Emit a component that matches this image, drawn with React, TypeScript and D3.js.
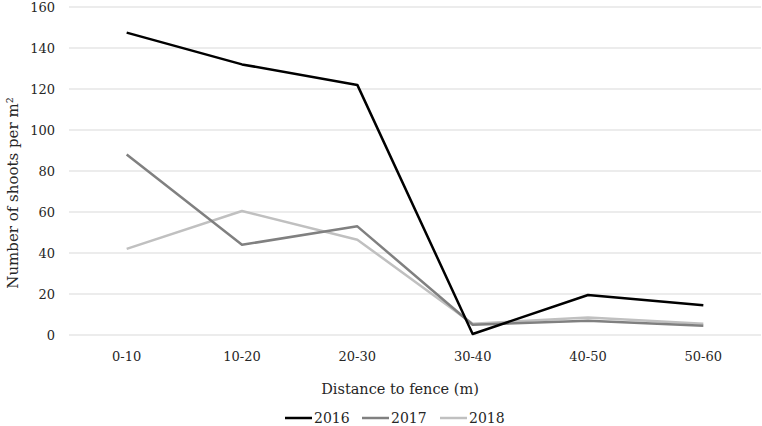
import { useEffect, useRef } from 'react'
import * as d3 from 'd3'

const categories = ['0-10', '10-20', '20-30', '30-40', '40-50', '50-60']
const years = ['2016', '2017', '2018']
const shoots2016 = [147.5, 132, 122, 0.5, 19.5, 14.5]
const shoots2017 = [88, 44, 53, 5, 7, 4.5]
const shoots2018 = [42, 60.5, 46.5, 5.5, 8.5, 5.5]
const yTicks = [0, 20, 40, 60, 80, 100, 120, 140, 160]

const colors = ['#000000', '#808080', '#c0c0c0']
const font = '"DejaVu Serif", serif'
const textColor = '#262626'

const App = () => {
  const svgRef = useRef<SVGSVGElement>(null)
  const W = 762
  const H = 426
  const margin = { top: 7, right: 1, bottom: 91, left: 69 }
  const width = W - margin.left - margin.right
  const height = H - margin.top - margin.bottom

  useEffect(() => {
    const svg = d3.select(svgRef.current)
    svg.selectAll('*').remove()

    const x = d3.scaleBand().domain(categories).range([0, width])
    const y = d3.scaleLinear().domain([0, 160]).range([height, 0])

    const g = svg.append('g').attr('transform', `translate(${margin.left},${margin.top})`)

    // gridlines
    yTicks.forEach(t => {
      g.append('line')
        .attr('x1', 0).attr('x2', width)
        .attr('y1', y(t)).attr('y2', y(t))
        .attr('stroke', '#d9d9d9').attr('stroke-width', 1)
    })

    // y tick labels
    yTicks.forEach(t => {
      g.append('text')
        .attr('x', -14).attr('y', y(t)).attr('dy', '0.35em')
        .attr('text-anchor', 'end')
        .style('font-family', font).style('font-size', '13px').style('fill', textColor)
        .text(t)
    })

    // x tick labels
    categories.forEach(c => {
      g.append('text')
        .attr('x', x(c)! + x.bandwidth() / 2).attr('y', height + 21)
        .attr('dy', '0.35em')
        .attr('text-anchor', 'middle')
        .style('font-family', font).style('font-size', '13px').style('fill', textColor)
        .text(c)
    })

    const series = [shoots2016, shoots2017, shoots2018]
    const line = d3.line<number>()
      .x((_, i) => x(categories[i])! + x.bandwidth() / 2)
      .y(d => y(d))

    // draw back to front so 2016 sits on top
    ;[2, 1, 0].forEach(i => {
      g.append('path')
        .datum(series[i])
        .attr('fill', 'none')
        .attr('stroke', colors[i])
        .attr('stroke-width', 2.5)
        .attr('stroke-linejoin', 'round')
        .attr('d', line)
    })

    // axis titles
    svg.append('text')
      .attr('x', 400).attr('y', 389)
      .attr('dy', '0.35em')
      .attr('text-anchor', 'middle')
      .style('font-family', font).style('font-size', '14.5px').style('fill', textColor)
      .text('Distance to fence (m)')

    svg.append('text')
      .attr('transform', `translate(13,193) rotate(-90)`)
      .attr('dy', '0.35em')
      .attr('text-anchor', 'middle')
      .style('font-family', font).style('font-size', '15px').style('fill', textColor)
      .text('Number of shoots per m²')

    // legend
    const legendX = [285, 362, 440]
    years.forEach((yr, i) => {
      const lg = svg.append('g').attr('transform', `translate(${legendX[i]},418)`)
      lg.append('line')
        .attr('x1', 0).attr('x2', 27).attr('y1', 0).attr('y2', 0)
        .attr('stroke', colors[i]).attr('stroke-width', 2.5)
      lg.append('text')
        .attr('x', 29).attr('y', 0).attr('dy', '0.35em')
        .style('font-family', font).style('font-size', '14px').style('fill', textColor)
        .text(yr)
    })
  }, [])

  return (
    <svg ref={svgRef} width={W} height={H} style={{ position: 'absolute', left: 0, top: 0, background: '#fff' }}></svg>
  )
}

export default App
